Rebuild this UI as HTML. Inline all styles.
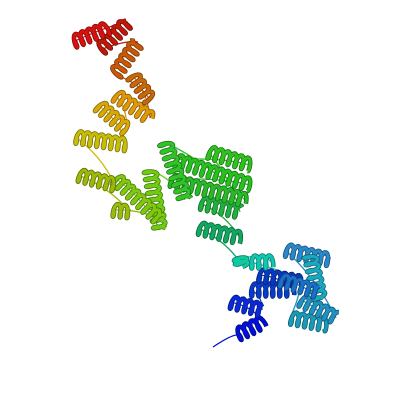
<!DOCTYPE html>
<html><head><meta charset="utf-8"><style>
html,body{margin:0;padding:0;background:#fff;width:400px;height:400px;overflow:hidden}
svg{display:block}
</style></head><body>
<svg id="mol" width="400" height="400" viewBox="0 0 400 400" xmlns="http://www.w3.org/2000/svg">
<rect width="400" height="400" fill="#fff"/>
<g id="loops"></g>
<g id="helices"></g>
</svg>
<script>
const helixStart = [[237,335],[230,302],[250,290],[258,275],[290,318],[300,300],[285,250],[310,255],[280,280],[250,262],[240,258],[198,228],[200,203],[208,152],[175,160],[170,180],[165,142],[150,170],[115,178],[112,210],[78,175],[75,137],[98,105],[115,95],[132,75],[115,75],[100,50],[73,42]];
const helixEnd   = [[263,322],[262,310],[293,290],[300,282],[327,325],[336,318],[330,260],[320,300],[318,292],[272,262],[242,265],[240,238],[240,212],[250,165],[250,185],[245,200],[185,200],[160,230],[160,220],[130,212],[115,185],[127,145],[127,130],[150,118],[150,100],[138,42],[128,22],[108,28]];
const helixColor = ["#0010d8","#0a2ad8","#0a3ccc","#0838c0","#1a9ab8","#2090c0","#2a88c8","#1aa8c0","#1a70c8","#10c8b0","#10c8a0","#10a860","#20b040","#30c020","#28c020","#28b828","#30c428","#70cc10","#80c810","#98bc10","#9cb808","#c8bc08","#d8a808","#e09808","#c86808","#c85808","#c01808","#d81010"];
const tail = [213,347];

const hg = document.getElementById('helices');
const lg = document.getElementById('loops');
const NS = 'http://www.w3.org/2000/svg';

function shade(hex, f){
  const n = parseInt(hex.slice(1),16);
  let r=(n>>16)&255,g=(n>>8)&255,b=n&255;
  r=Math.round(r*f);g=Math.round(g*f);b=Math.round(b*f);
  return 'rgb('+Math.min(255,r)+','+Math.min(255,g)+','+Math.min(255,b)+')';
}

let prev = tail;
for (let i=0;i<helixStart.length;i++){
  const s = helixStart[i];
  const p = document.createElementNS(NS,'path');
  const mx=(prev[0]+s[0])/2+6, my=(prev[1]+s[1])/2-6;
  p.setAttribute('d','M'+prev[0]+' '+prev[1]+' Q'+mx+' '+my+' '+s[0]+' '+s[1]);
  p.setAttribute('fill','none');
  p.setAttribute('stroke',helixColor[i]);
  p.setAttribute('stroke-width','1.3');
  
  
  lg.appendChild(p);
  prev = helixEnd[i];
}

for (let i=0;i<helixStart.length;i++){
  const [x1,y1]=helixStart[i],[x2,y2]=helixEnd[i];
  const dx=x2-x1, dy=y2-y1, L=Math.hypot(dx,dy);
  const ux=dx/L, uy=dy/L, px=-uy, py=ux;
  const turns=Math.max(2,L/7), r=6.5, steps=Math.round(turns*16);
  let pts=[];
  for(let k=0;k<=steps;k++){
    const t=k/steps, a=t*turns*2*Math.PI;
    const o=r*Math.sin(a), al=2*Math.cos(a);
    pts.push([x1+dx*t+px*o+ux*al, y1+dy*t+py*o+uy*al]);
  }
  const d='M'+pts.map(p=>p[0].toFixed(1)+' '+p[1].toFixed(1)).join(' L');
  const back=document.createElementNS(NS,'path');
  back.setAttribute('d',d);
  back.setAttribute('fill','none');
  back.setAttribute('stroke',shade(helixColor[i],0.6));
  back.setAttribute('stroke-width','4.6');
  back.setAttribute('stroke-linejoin','round');
  
  
  hg.appendChild(back);
  const front=document.createElementNS(NS,'path');
  front.setAttribute('d',d);
  front.setAttribute('fill','none');
  front.setAttribute('stroke',helixColor[i]);
  front.setAttribute('stroke-width','3');
  front.setAttribute('stroke-linejoin','round');
  
  
  hg.appendChild(front);
}
</script>
</body></html>
